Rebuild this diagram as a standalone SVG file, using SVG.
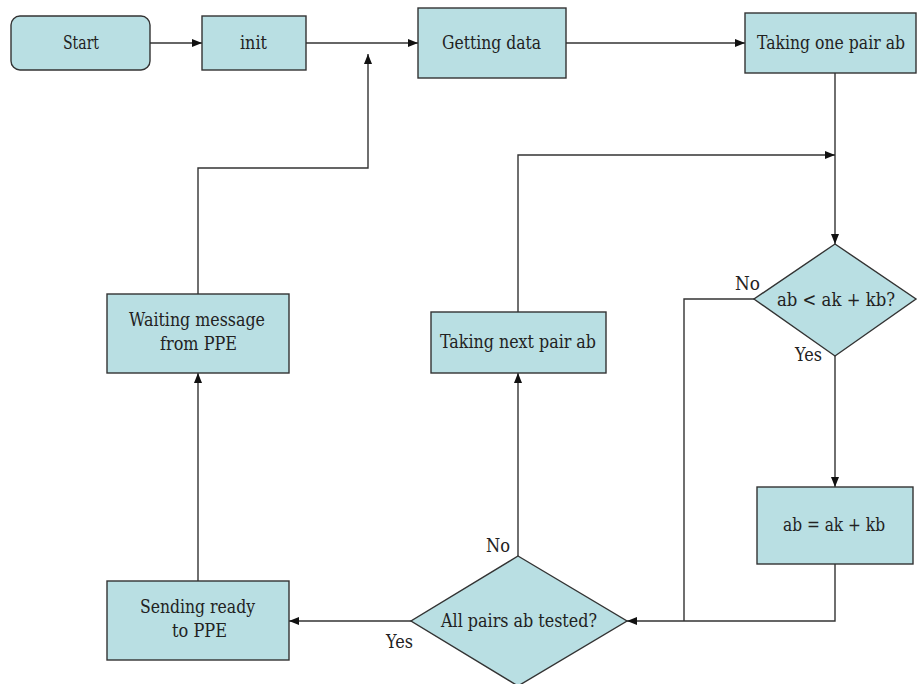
<svg xmlns="http://www.w3.org/2000/svg" width="918" height="684" viewBox="0 0 918 684">
  <defs>
    <marker id="arrow" viewBox="0 0 10 8" refX="10" refY="4" markerWidth="10" markerHeight="8" markerUnits="userSpaceOnUse" orient="auto">
      <path d="M0,0 L10,4 L0,8 Z" fill="#111"/>
    </marker>
    <style>
      .box { fill: #b9dfe3; stroke: #333; stroke-width: 1.4; }
      .lbl { font-family: "DejaVu Serif", "Liberation Serif", serif; font-size: 18px; fill: #222; text-anchor: middle; }
      .tag { font-family: "DejaVu Serif", "Liberation Serif", serif; font-size: 18px; fill: #222; }
      .conn { fill: none; stroke: #333; stroke-width: 1.4; }
    </style>
  </defs>
  <rect width="918" height="684" fill="#fff"/>

  <g id="connectors">
    <path class="conn" d="M150,43 H202" marker-end="url(#arrow)"/>
    <path class="conn" d="M306,43 H418" marker-end="url(#arrow)"/>
    <path class="conn" d="M198,294 V168 H368 V54" marker-end="url(#arrow)"/>
    <path class="conn" d="M566,43 H745" marker-end="url(#arrow)"/>
    <path class="conn" d="M835,73 V244" marker-end="url(#arrow)"/>
    <path class="conn" d="M518,312 V155 H835" marker-end="url(#arrow)"/>
    <path class="conn" d="M754,299 H684 V621"/>
    <path class="conn" d="M835,356 V487" marker-end="url(#arrow)"/>
    <path class="conn" d="M835,564 V621 H627" marker-end="url(#arrow)"/>
    <path class="conn" d="M518,556 V373" marker-end="url(#arrow)"/>
    <path class="conn" d="M411,621 H289" marker-end="url(#arrow)"/>
    <path class="conn" d="M198,581 V373" marker-end="url(#arrow)"/>
  </g>

  <g id="start">
    <rect class="box" x="11" y="16" width="139" height="54" rx="9" ry="9"/>
    <text class="lbl" x="81" y="49" textLength="36" lengthAdjust="spacingAndGlyphs">Start</text>
  </g>
  <g id="init">
    <rect class="box" x="202" y="16" width="104" height="54"/>
    <text class="lbl" x="253.5" y="49" textLength="27" lengthAdjust="spacingAndGlyphs">init</text>
  </g>
  <g id="getting-data">
    <rect class="box" x="418" y="8" width="148" height="70"/>
    <text class="lbl" x="491.5" y="49" textLength="99" lengthAdjust="spacingAndGlyphs">Getting data</text>
  </g>
  <g id="taking-one-pair">
    <rect class="box" x="745" y="13" width="171" height="60"/>
    <text class="lbl" x="831" y="49" font-size="17" textLength="148" lengthAdjust="spacingAndGlyphs">Taking one pair ab</text>
  </g>
  <g id="compare">
    <polygon class="box" points="835,244 916,299 835,356 754,299"/>
    <text class="lbl" x="836" y="306" textLength="118" lengthAdjust="spacingAndGlyphs">ab &lt; ak + kb?</text>
  </g>
  <g id="update">
    <rect class="box" x="757" y="487" width="156" height="77"/>
    <text class="lbl" x="834" y="531" textLength="102" lengthAdjust="spacingAndGlyphs">ab = ak + kb</text>
  </g>
  <g id="all-tested">
    <polygon class="box" points="518,556 627,621 518,686 411,621"/>
    <text class="lbl" x="519" y="627" textLength="156" lengthAdjust="spacingAndGlyphs">All pairs ab tested?</text>
  </g>
  <g id="taking-next-pair">
    <rect class="box" x="431" y="312" width="175" height="61"/>
    <text class="lbl" x="518" y="348" textLength="156" lengthAdjust="spacingAndGlyphs">Taking next pair ab</text>
  </g>
  <g id="waiting">
    <rect class="box" x="107" y="294" width="182" height="79"/>
    <text class="lbl" x="197" y="326" textLength="136" lengthAdjust="spacingAndGlyphs">Waiting message</text>
    <text class="lbl" x="198.5" y="350" textLength="77" lengthAdjust="spacingAndGlyphs">from PPE</text>
  </g>
  <g id="sending">
    <rect class="box" x="107" y="581" width="182" height="79"/>
    <text class="lbl" x="197.5" y="613" textLength="115" lengthAdjust="spacingAndGlyphs">Sending ready</text>
    <text class="lbl" x="199.5" y="637" textLength="55" lengthAdjust="spacingAndGlyphs">to PPE</text>
  </g>

  <g id="branch-labels">
    <text class="tag" x="735" y="290" textLength="25" lengthAdjust="spacingAndGlyphs">No</text>
    <text class="tag" x="795" y="361" textLength="27" lengthAdjust="spacingAndGlyphs">Yes</text>
    <text class="tag" x="486" y="552" textLength="24" lengthAdjust="spacingAndGlyphs">No</text>
    <text class="tag" x="386" y="648" textLength="27" lengthAdjust="spacingAndGlyphs">Yes</text>
  </g>
</svg>
